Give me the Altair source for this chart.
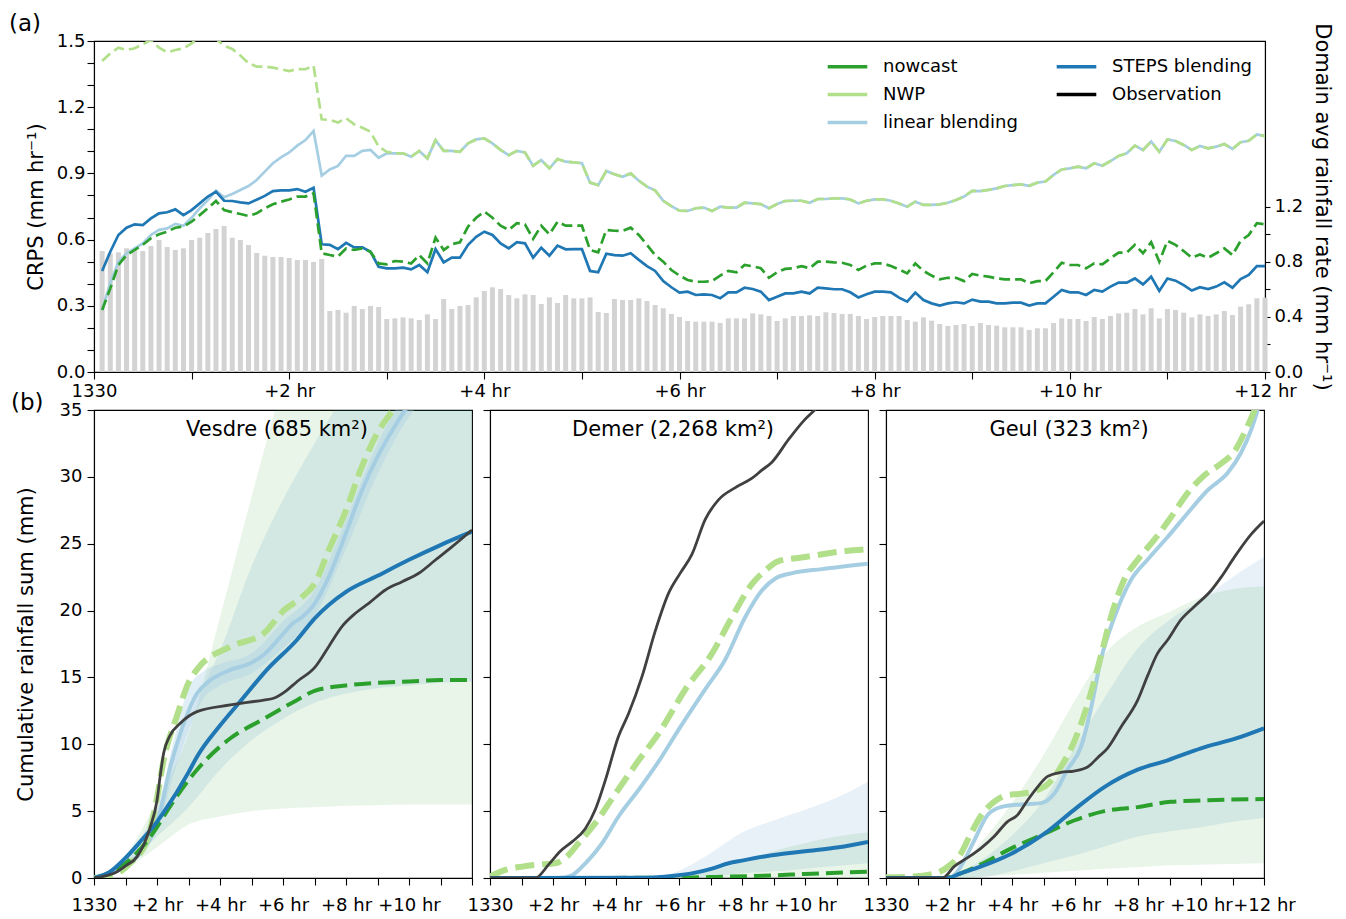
import altair as alt
import pandas as pd

FONT = "DejaVu Sans"

# ---------------- panel (a): CRPS per 5-minute lead time (144 steps) ----------------
STEPS_CRPS = [
    0.458, 0.545, 0.621, 0.654, 0.669, 0.666, 0.696, 0.719, 0.724, 0.737, 0.711, 0.734,
    0.764, 0.795, 0.817, 0.776, 0.775, 0.769, 0.764, 0.781, 0.798, 0.820, 0.823, 0.823,
    0.829, 0.817, 0.835, 0.579, 0.576, 0.557, 0.585, 0.565, 0.565, 0.545, 0.477, 0.470,
    0.470, 0.473, 0.465, 0.485, 0.452, 0.557, 0.497, 0.518, 0.518, 0.576, 0.613, 0.636,
    0.621, 0.583, 0.560, 0.588, 0.583, 0.518, 0.563, 0.527, 0.573, 0.556, 0.557, 0.557,
    0.458, 0.452, 0.536, 0.530, 0.527, 0.538, 0.508, 0.480, 0.458, 0.412, 0.384, 0.360,
    0.364, 0.349, 0.352, 0.349, 0.334, 0.361, 0.361, 0.382, 0.376, 0.364, 0.326, 0.341,
    0.356, 0.356, 0.364, 0.356, 0.382, 0.379, 0.375, 0.375, 0.361, 0.338, 0.352, 0.364,
    0.364, 0.361, 0.337, 0.319, 0.360, 0.326, 0.311, 0.301, 0.311, 0.316, 0.311, 0.328,
    0.319, 0.319, 0.311, 0.311, 0.314, 0.314, 0.301, 0.311, 0.311, 0.341, 0.372, 0.361,
    0.361, 0.349, 0.372, 0.364, 0.387, 0.405, 0.405, 0.424, 0.397, 0.432, 0.367, 0.424,
    0.414, 0.394, 0.369, 0.384, 0.376, 0.387, 0.406, 0.382, 0.421, 0.440, 0.480, 0.480,
]
NOWCAST_CRPS = [
    0.281, 0.379, 0.485, 0.530, 0.553, 0.576, 0.606, 0.624, 0.636, 0.654, 0.659, 0.681,
    0.711, 0.742, 0.775, 0.734, 0.724, 0.716, 0.707, 0.719, 0.742, 0.760, 0.772, 0.782,
    0.795, 0.795, 0.810, 0.538, 0.530, 0.523, 0.560, 0.553, 0.560, 0.545, 0.492, 0.488,
    0.503, 0.500, 0.492, 0.530, 0.492, 0.609, 0.553, 0.579, 0.588, 0.659, 0.699, 0.727,
    0.699, 0.663, 0.644, 0.674, 0.669, 0.603, 0.663, 0.624, 0.681, 0.663, 0.663, 0.663,
    0.553, 0.542, 0.644, 0.640, 0.639, 0.654, 0.621, 0.576, 0.530, 0.500, 0.462, 0.437,
    0.417, 0.409, 0.409, 0.412, 0.437, 0.458, 0.452, 0.485, 0.479, 0.470, 0.427, 0.452,
    0.467, 0.470, 0.480, 0.470, 0.500, 0.500, 0.497, 0.495, 0.485, 0.462, 0.482, 0.492,
    0.492, 0.480, 0.465, 0.447, 0.492, 0.458, 0.437, 0.420, 0.427, 0.427, 0.412, 0.444,
    0.437, 0.432, 0.424, 0.420, 0.420, 0.420, 0.402, 0.412, 0.412, 0.452, 0.495, 0.485,
    0.485, 0.470, 0.492, 0.488, 0.515, 0.541, 0.541, 0.576, 0.538, 0.588, 0.500, 0.594,
    0.576, 0.548, 0.518, 0.533, 0.518, 0.538, 0.560, 0.530, 0.594, 0.621, 0.674, 0.669,
]
LINEAR_CRPS = [
    0.281, 0.402, 0.500, 0.538, 0.560, 0.583, 0.621, 0.644, 0.651, 0.671, 0.663, 0.699,
    0.742, 0.779, 0.822, 0.792, 0.807, 0.825, 0.843, 0.870, 0.908, 0.946, 0.973, 0.995,
    1.026, 1.051, 1.092, 0.890, 0.918, 0.934, 0.980, 0.979, 1.002, 1.006, 0.971, 0.991,
    0.991, 0.991, 0.976, 1.002, 0.968, 1.051, 1.002, 1.002, 0.998, 1.036, 1.054, 1.059,
    1.036, 1.006, 0.983, 1.002, 0.995, 0.934, 0.961, 0.923, 0.965, 0.953, 0.950, 0.946,
    0.858, 0.847, 0.911, 0.896, 0.885, 0.900, 0.867, 0.840, 0.823, 0.776, 0.752, 0.731,
    0.730, 0.742, 0.745, 0.730, 0.749, 0.745, 0.745, 0.767, 0.764, 0.761, 0.742, 0.761,
    0.775, 0.776, 0.776, 0.767, 0.784, 0.784, 0.787, 0.787, 0.782, 0.764, 0.776, 0.782,
    0.782, 0.776, 0.764, 0.749, 0.772, 0.757, 0.757, 0.760, 0.767, 0.779, 0.795, 0.821,
    0.820, 0.825, 0.832, 0.843, 0.847, 0.850, 0.844, 0.858, 0.863, 0.893, 0.918, 0.923,
    0.931, 0.923, 0.946, 0.935, 0.956, 0.979, 0.991, 1.026, 1.006, 1.044, 0.998, 1.054,
    1.047, 1.029, 1.006, 1.024, 1.014, 1.021, 1.033, 1.011, 1.041, 1.048, 1.077, 1.069,
]
NWP_CRPS = [
    1.409, 1.444, 1.470, 1.459, 1.467, 1.485, 1.505, 1.470, 1.449, 1.459, 1.467, 1.489,
    1.520, 1.530, 1.510, 1.479, 1.464, 1.434, 1.399, 1.384, 1.384, 1.379, 1.372, 1.364,
    1.373, 1.372, 1.388, 1.145, 1.142, 1.131, 1.150, 1.122, 1.107, 1.089, 1.021, 0.998,
    0.991, 0.991, 0.976, 1.002, 0.968, 1.051, 1.002, 1.002, 0.998, 1.036, 1.054, 1.059,
    1.036, 1.006, 0.983, 1.002, 0.995, 0.934, 0.961, 0.923, 0.965, 0.953, 0.950, 0.946,
    0.858, 0.847, 0.911, 0.896, 0.885, 0.900, 0.867, 0.840, 0.823, 0.776, 0.752, 0.731,
    0.730, 0.742, 0.745, 0.730, 0.749, 0.745, 0.745, 0.767, 0.764, 0.761, 0.742, 0.761,
    0.775, 0.776, 0.776, 0.767, 0.784, 0.784, 0.787, 0.787, 0.782, 0.764, 0.776, 0.782,
    0.782, 0.776, 0.764, 0.749, 0.772, 0.757, 0.757, 0.760, 0.767, 0.779, 0.795, 0.821,
    0.820, 0.825, 0.832, 0.843, 0.847, 0.850, 0.844, 0.858, 0.863, 0.893, 0.918, 0.923,
    0.931, 0.923, 0.946, 0.935, 0.956, 0.979, 0.991, 1.026, 1.006, 1.044, 0.998, 1.054,
    1.047, 1.029, 1.006, 1.024, 1.014, 1.021, 1.033, 1.011, 1.041, 1.048, 1.077, 1.069,
]
RAIN_RATE = [
    0.877, 0.860, 0.868, 0.897, 0.885, 0.877, 0.914, 0.957, 0.906, 0.885, 0.897, 0.957,
    0.974, 1.008, 1.037, 1.059, 0.974, 0.957, 0.921, 0.863, 0.843, 0.834, 0.834, 0.827,
    0.812, 0.812, 0.798, 0.819, 0.442, 0.450, 0.430, 0.479, 0.457, 0.479, 0.471, 0.384,
    0.389, 0.396, 0.389, 0.377, 0.418, 0.384, 0.529, 0.457, 0.479, 0.486, 0.541, 0.587,
    0.614, 0.602, 0.558, 0.534, 0.563, 0.558, 0.493, 0.541, 0.500, 0.558, 0.534, 0.534,
    0.541, 0.435, 0.428, 0.529, 0.522, 0.522, 0.534, 0.515, 0.486, 0.462, 0.421, 0.399,
    0.370, 0.365, 0.365, 0.365, 0.355, 0.389, 0.389, 0.389, 0.425, 0.418, 0.406, 0.370,
    0.389, 0.406, 0.406, 0.411, 0.406, 0.433, 0.428, 0.421, 0.421, 0.406, 0.384, 0.399,
    0.406, 0.406, 0.406, 0.377, 0.365, 0.396, 0.372, 0.348, 0.334, 0.341, 0.348, 0.334,
    0.355, 0.341, 0.336, 0.324, 0.324, 0.324, 0.305, 0.317, 0.317, 0.355, 0.389, 0.384,
    0.384, 0.370, 0.399, 0.384, 0.406, 0.425, 0.430, 0.457, 0.418, 0.462, 0.389, 0.457,
    0.450, 0.430, 0.396, 0.418, 0.406, 0.418, 0.442, 0.413, 0.474, 0.491, 0.534, 0.539,
]
LEAD_H = [k / 12 for k in range(1, 145)]  # lead time in hours (5-min steps)

SERIES = ["nowcast", "NWP", "linear blending", "STEPS blending", "Observation"]
SERIES_COLORS = ["#2ca02c", "#b2df8a", "#a6cee3", "#1f77b4", "#000000"]

# ---------------- panel (b): cumulative rainfall (hour, mm) ----------------
VES_OBS = [(0, 0), (0.73, 0.47), (1.0, 0.9), (1.37, 1.6), (1.79, 3.84), (2.0, 5.8), (2.1, 7.6),
           (2.21, 9.33), (2.4, 10.6), (2.74, 11.57), (3.27, 12.44), (4.33, 12.94), (5.39, 13.31),
           (5.7, 13.44), (6.1, 14.0), (6.44, 14.68), (7.03, 15.81), (7.45, 17.3), (7.87, 18.8),
           (8.3, 19.8), (8.72, 20.54), (9.25, 21.54), (9.78, 22.16), (10.31, 22.79),
           (10.84, 23.78), (11.37, 24.78), (12, 26.03)]
VES_STEPS = [(0, 0), (0.5, 0.45), (1, 1.5), (1.5, 2.8), (2, 4.2), (2.21, 4.9), (3, 7.9),
             (3.27, 9.07), (4, 11.4), (4.64, 13.2), (5.5, 15.6), (6.44, 17.8), (7, 19.4),
             (8, 21.4), (9, 22.6), (10, 23.8), (11, 24.9), (12, 25.9)]
VES_NOW = [(0, 0), (1, 1.1), (2, 3.8), (2.21, 4.6), (3.27, 8.1), (4.33, 10.45), (5.39, 11.9),
           (6.44, 13.3), (7, 14.0), (8, 14.4), (9, 14.6), (10, 14.7), (11, 14.8), (12, 14.8)]
VES_NWP = [(0, 0), (0.5, 0.1), (1.14, 1.1), (1.68, 2.8), (2.0, 6.0), (2.21, 8.8), (2.63, 12.1),
           (3.0, 14.6), (3.27, 15.6), (4.33, 17.3), (5.39, 18.3), (6.02, 20.0), (6.6, 21.0),
           (7, 22.0), (7.45, 24.5), (8, 27.5), (8.51, 30.8), (9, 33.3), (9.46, 34.9),
           (10, 37.0), (12, 43.0)]
VES_LB = [(0, 0), (1, 0.9), (2, 4.1), (2.42, 8.3), (2.74, 10.8), (3.27, 13.8), (3.64, 14.7),
          (4.33, 15.56), (5.0, 16.1), (5.39, 16.7), (6.02, 18.3), (6.29, 19.0), (6.6, 19.5),
          (7, 20.5), (7.45, 22.5), (8, 25.8), (8.51, 29.0), (9, 31.5), (9.35, 33.0),
          (9.88, 35.0), (11, 38.0), (12, 41.0)]
VES_GREEN = [(0, 0, 0), (1, 0.7, 1.7), (2, 2.3, 5.8), (3, 4.0, 10.8), (4, 4.6, 19.5),
             (5, 5.0, 28.5), (6, 5.2, 37), (7, 5.3, 44), (8, 5.4, 48), (9, 5.45, 51),
             (10, 5.5, 53), (11, 5.5, 55), (12, 5.5, 57)]
VES_BLUE = [(0, 0, 0), (1, 1.0, 1.6), (2, 3.1, 5.2), (3, 5.3, 12.0), (4, 8.1, 17.0),
            (5, 10.3, 23.3), (6, 11.9, 28.3), (7, 13.1, 32.5), (8, 13.8, 36.4), (9, 14.2, 40),
            (10, 14.4, 43), (11, 14.6, 46), (12, 14.7, 49)]
VES_LB_BAND = [(0, 0, 0), (1, 0.8, 1.0), (2, 3.6, 4.8), (2.5, 7.5, 10.0), (3, 11.0, 14.2),
               (3.5, 13.5, 15.5), (4, 14.4, 16.0), (5, 15.3, 16.8), (6, 17.2, 19.2),
               (7, 19.6, 21.5), (8, 24.6, 26.8), (9, 30.2, 32.5), (10, 34.5, 36.5),
               (11, 37, 39), (12, 40, 42)]

DEM_OBS = [(0, 0), (1.44, 0), (1.86, 1.0), (2.23, 2.0), (2.6, 2.7), (3.03, 3.7), (3.34, 5.1),
           (3.66, 7.3), (4.08, 10.6), (4.4, 12.3), (4.83, 15.1), (5.25, 18.5), (5.67, 21.3),
           (6.04, 22.8), (6.41, 24.2), (6.83, 26.8), (7.26, 28.3), (7.79, 29.2), (8.32, 29.9),
           (8.63, 30.5), (8.95, 31.1), (9.48, 32.8), (10.0, 34.3), (10.33, 35.05), (11, 37.0),
           (12, 39.5)]
DEM_NWP = [(0, 0.1), (0.49, 0.6), (1.02, 0.85), (1.54, 1.0), (2.07, 1.1), (2.39, 1.5),
           (2.81, 2.6), (3.34, 4.1), (3.98, 6.3), (4.72, 8.8), (5.35, 10.8), (6.2, 14.1),
           (7.05, 16.8), (7.68, 19.5), (8.32, 22.0), (8.74, 23.0), (9.16, 23.7), (10.0, 24.0),
           (11.07, 24.4), (12, 24.6)]
DEM_LB = [(0, 0), (2.2, 0), (2.6, 0.2), (3.03, 1.1), (3.56, 2.6), (4.08, 4.6), (4.72, 6.6),
          (5.35, 8.7), (5.99, 11.1), (6.83, 14.1), (7.46, 16.3), (8.1, 19.5), (8.63, 21.5),
          (9.06, 22.4), (9.59, 22.8), (10.54, 23.1), (12, 23.5)]
DEM_STEPS = [(0, 0), (5.0, 0.02), (5.78, 0.15), (6.52, 0.4), (7.05, 0.7), (7.58, 1.1),
             (8.0, 1.3), (8.95, 1.7), (10, 2.0), (11.07, 2.3), (12, 2.7)]
DEM_NOW = [(0, 0), (6, 0.02), (7, 0.07), (9, 0.2), (10, 0.3), (12, 0.47)]
DEM_GREEN = [(0, 0, 0), (4, 0, 0), (5, 0, 0.05), (6, 0, 0.2), (7, 0, 0.55), (8, 0, 1.2),
             (9, 0, 2.0), (10, 0, 2.6), (11, 0, 3.1), (12, 0, 3.4)]
DEM_BLUE = [(0, 0, 0), (5, 0, 0.05), (6, 0, 0.55), (7, 0.1, 1.85), (8, 0.35, 3.4),
            (9, 0.5, 4.3), (10, 0.7, 5.1), (11, 0.9, 6.0), (12, 1.1, 7.2)]

GEU_OBS = [(0, 0), (1.8, 0), (2.16, 0.85), (2.58, 1.5), (3.0, 2.2), (3.43, 3.1), (3.85, 4.2),
           (4.17, 4.7), (4.49, 5.8), (4.81, 6.8), (5.13, 7.6), (5.55, 7.9), (5.97, 8.0),
           (6.4, 8.3), (6.72, 9.0), (7.03, 9.7), (7.46, 11.3), (7.99, 13.3), (8.3, 15.1),
           (8.62, 16.8), (8.94, 17.8), (9.36, 19.3), (9.79, 20.3), (10.32, 21.5),
           (10.64, 22.5), (11.06, 24.0), (11.59, 25.7), (12, 26.7)]
GEU_NWP = [(0, 0.05), (0.78, 0.1), (1.63, 0.4), (2.05, 1.0), (2.37, 1.8), (2.69, 3.3),
           (3.0, 4.6), (3.43, 5.7), (3.85, 6.2), (4.28, 6.3), (4.7, 6.5), (5.13, 7.0),
           (5.55, 8.3), (6.08, 10.8), (6.5, 13.8), (6.82, 16.6), (7.14, 19.5), (7.56, 22.3),
           (7.99, 23.8), (8.52, 25.3), (9.05, 27.0), (9.58, 28.8), (10.1, 30.1),
           (10.64, 31.0), (11.06, 31.9), (11.38, 33.3), (11.7, 35.0), (12, 37.0)]
GEU_LB = [(0, 0), (2.05, 0), (2.37, 0.85), (2.8, 2.8), (3.22, 4.7), (3.64, 5.3), (4.28, 5.5),
          (4.92, 5.6), (5.34, 6.3), (5.76, 8.1), (6.19, 9.8), (6.5, 12.6), (6.82, 16.3),
          (7.25, 19.5), (7.78, 22.3), (8.3, 23.8), (8.94, 25.5), (9.58, 27.3), (10.21, 29.0),
          (10.85, 30.3), (11.27, 31.8), (11.59, 33.5), (11.8, 35.0), (12, 36.5)]
GEU_STEPS = [(0, 0), (1.95, 0), (2.37, 0.35), (3.0, 0.85), (3.96, 1.8), (5.02, 3.3),
             (5.97, 5.1), (6.93, 6.8), (7.99, 8.1), (8.94, 8.8), (10.0, 9.7), (11.06, 10.4),
             (12, 11.2)]
GEU_NOW = [(0, 0), (1.84, 0), (2.37, 0.35), (3.0, 1.0), (3.96, 2.2), (5.02, 3.3), (5.97, 4.3),
           (6.93, 5.0), (7.99, 5.3), (9.05, 5.7), (10.0, 5.8), (12, 5.9)]
GEU_GREEN = [(0, 0, 0), (1, 0, 0.05), (2, 0, 0.3), (3, 0.1, 2.6), (4, 0.25, 5.6),
             (5, 0.4, 9.2), (6, 0.55, 13.3), (7, 0.7, 16.9), (8, 0.8, 18.8), (9, 0.95, 19.9),
             (10, 1.0, 21.0), (11, 1.05, 21.6), (12, 1.1, 21.8)]
GEU_BLUE = [(0, 0, 0), (2, 0, 0.1), (3, 0.05, 1.3), (4, 0.5, 3.2), (5, 1.1, 5.8),
            (6, 1.7, 9.8), (7, 2.4, 13.7), (8, 3.1, 17.2), (9, 3.5, 19.3), (10, 3.8, 20.8),
            (11, 4.2, 22.5), (12, 4.5, 24.0)]

BASINS = ["Vesdre (685 km²)", "Demer (2,268 km²)", "Geul (323 km²)"]

# ---------------- chart (a) ----------------
TOP_X_LABELS = "datum.value == 0 ? '1330' : (datum.value % 2 == 0 ? '+' + datum.value + ' hr' : '')"
BOT_X_LABELS = ("datum.value == 0 ? '1330' : (datum.value % 2 == 0 && datum.value < 12 ? "
                "'+' + datum.value + ' hr' : '')")

x_top = alt.X("hour:Q", scale=alt.Scale(domain=[0, 12], nice=False, zero=False, padding=0),
              axis=alt.Axis(values=list(range(13)), labelExpr=TOP_X_LABELS, title=None,
                            tickSize=7, labelPadding=3, labelFlush=False, labelOverlap=False,
                            grid=False))
crps_ticks = [round(i * 0.1, 1) for i in range(16)]
y_crps = alt.Y("crps:Q", scale=alt.Scale(domain=[0, 1.5], nice=False),
               axis=alt.Axis(orient="left", values=crps_ticks,
                             labelExpr="round(datum.value * 10) % 3 == 0 ? format(datum.value, '.1f') : ''",
                             title="CRPS (mm hr⁻¹)", tickSize=7, labelPadding=2, titlePadding=10,
                             grid=False, labelOverlap=False))
rate_ticks = [round(i * 0.2, 1) for i in range(7)]
y_rate = alt.Y("rate:Q", scale=alt.Scale(domain=[0, 2.4], nice=False),
               axis=alt.Axis(orient="right", values=rate_ticks,
                             labelExpr="round(datum.value * 10) % 4 == 0 ? format(datum.value, '.1f') : ''",
                             title="Domain avg rainfall rate (mm hr⁻¹)", tickSize=5, labelPadding=4,
                             titlePadding=9, grid=False, labelOverlap=False))

color_enc = alt.Color(
    "series:N",
    scale=alt.Scale(domain=SERIES, range=SERIES_COLORS),
    legend=alt.Legend(title=None, orient="none", legendX=735, legendY=7, columns=2,
                      symbolType="M-1.2,0L1.2,0", symbolSize=1089, symbolStrokeWidth=3.5,
                      symbolDash=[1, 0], symbolFillColor="transparent",
                      labelFontSize=18, labelFont=FONT, labelColor="black",
                      labelOffset=17, columnPadding=31, rowPadding=0, padding=0),
)


def crps_df(values, name):
    return pd.DataFrame({"hour": LEAD_H, "crps": values, "series": name})


def crps_line(values, name, dash=None):
    kw = dict(strokeWidth=2.7, clip=True)
    if dash:
        kw["strokeDash"] = dash
    return alt.Chart(crps_df(values, name)).mark_line(**kw).encode(x=x_top, y=y_crps, color=color_enc)


rain_df = pd.DataFrame({"hour": LEAD_H, "rate": RAIN_RATE})
bars = alt.Chart(rain_df).mark_bar(color="#d3d3d3", size=5).encode(x=x_top, y=y_rate)

lines = alt.layer(
    crps_line(LINEAR_CRPS, "linear blending"),
    crps_line(NWP_CRPS, "NWP", dash=[11, 5]),
    crps_line(STEPS_CRPS, "STEPS blending"),
    crps_line(NOWCAST_CRPS, "nowcast", dash=[11, 5]),
)

tag_a = alt.Chart(pd.DataFrame({"t": ["(a)"]})).mark_text(
    font=FONT, fontSize=23, color="black", align="left", baseline="alphabetic"
).encode(text="t:N", x=alt.value(-85), y=alt.value(-10))

top = alt.layer(bars, lines, tag_a).resolve_scale(y="independent").properties(width=1171, height=331)


# ---------------- chart (b) ----------------
def panel(title, obs, steps, now, nwp, lb, green, blue, lb_band=None, first=False, last=False):
    xaxis = alt.Axis(values=list(range(13)), labelExpr=(TOP_X_LABELS if last else BOT_X_LABELS),
                     title=None, tickSize=7, labelPadding=11, labelFlush=False, labelOverlap=False,
                     grid=False)
    xenc = alt.X("h:Q", scale=alt.Scale(domain=[0, 12], nice=False, zero=False, padding=0),
                 axis=xaxis)
    yaxis = alt.Axis(values=list(range(0, 36, 5)), labels=first,
                     title=("Cumulative rainfall sum (mm)" if first else None),
                     tickSize=7, labelPadding=5, titlePadding=23, grid=False, labelOverlap=False)
    yscale = alt.Scale(domain=[0, 35], nice=False)

    def band(data, color, opacity):
        df = pd.DataFrame(data, columns=["h", "lo", "hi"])
        return alt.Chart(df).mark_area(color=color, opacity=opacity, clip=True,
                                       interpolate="monotone").encode(
            x=xenc, y=alt.Y("lo:Q", scale=yscale, axis=yaxis), y2="hi:Q")

    def line(data, color, width, dash=None):
        df = pd.DataFrame(data, columns=["h", "v"])
        kw = dict(color=color, strokeWidth=width, clip=True, interpolate="monotone")
        if dash:
            kw["strokeDash"] = dash
        return alt.Chart(df).mark_line(**kw).encode(
            x=xenc, y=alt.Y("v:Q", scale=yscale, axis=yaxis))

    layers = [band(green, "#2ca02c", 0.1), band(blue, "#1f77b4", 0.1)]
    if lb_band is not None:
        layers.append(band(lb_band, "#a6cee3", 0.35))
    layers += [
        line(lb, "#a6cee3", 4),
        line(nwp, "#b2df8a", 6, dash=[19, 8]),
        line(now, "#2ca02c", 4, dash=[17, 7]),
        line(steps, "#1f77b4", 4),
        line(obs, "#404040", 2.8),
        alt.Chart(pd.DataFrame({"t": [title]})).mark_text(
            font=FONT, fontSize=21, color="black", align="center", baseline="alphabetic"
        ).encode(text="t:N", x=alt.value(183), y=alt.value(26)),
    ]
    if first:
        layers.append(alt.Chart(pd.DataFrame({"t": ["(b)"]})).mark_text(
            font=FONT, fontSize=23, color="black", align="left", baseline="alphabetic"
        ).encode(text="t:N", x=alt.value(-83), y=alt.value(0)))
    return alt.layer(*layers).properties(width=378, height=468)


p1 = panel(BASINS[0], VES_OBS, VES_STEPS, VES_NOW, VES_NWP, VES_LB, VES_GREEN, VES_BLUE,
           lb_band=VES_LB_BAND, first=True)
p2 = panel(BASINS[1], DEM_OBS, DEM_STEPS, DEM_NOW, DEM_NWP, DEM_LB, DEM_GREEN, DEM_BLUE)
p3 = panel(BASINS[2], GEU_OBS, GEU_STEPS, GEU_NOW, GEU_NWP, GEU_LB, GEU_GREEN, GEU_BLUE, last=True)

bottom = alt.hconcat(p1, p2, p3, spacing=18, bounds="flush")

chart = (
    alt.vconcat(top, bottom, spacing=38, bounds="flush")
    .resolve_scale(color="independent")
    .properties(padding={"left": 0, "top": 4, "right": 2, "bottom": 0})
    .configure_axis(labelFont=FONT, titleFont=FONT, labelFontSize=18, titleFontSize=21,
                    titleFontWeight="normal", labelColor="black", titleColor="black",
                    domainColor="black", tickColor="black", domainWidth=1.1, tickWidth=1.1)
    .configure_view(stroke="black", strokeWidth=1.1)
    .configure_legend(labelFont=FONT)
)

chart.save("out.html", embed_options={"renderer": "svg", "actions": False})
